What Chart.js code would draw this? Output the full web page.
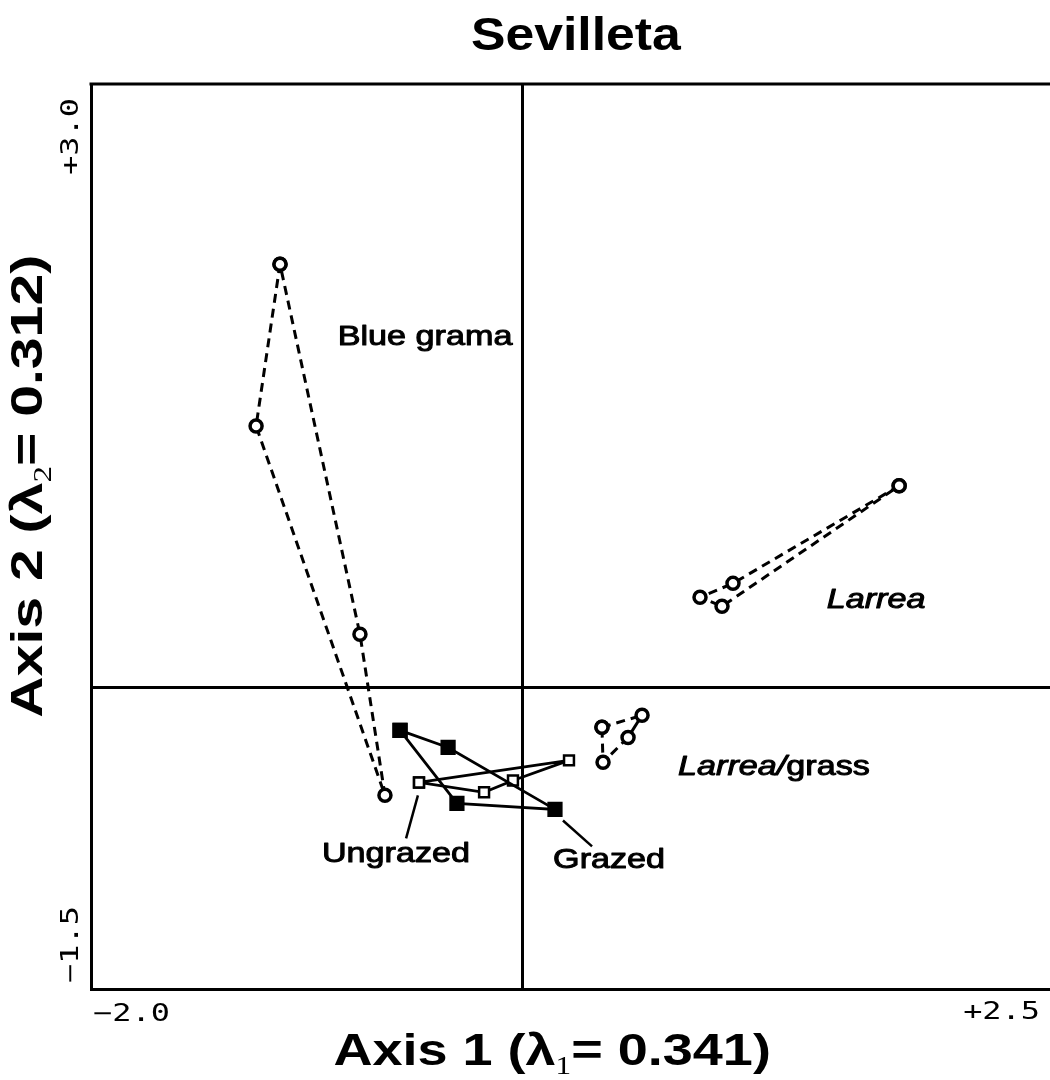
<!DOCTYPE html>
<html>
<head>
<meta charset="utf-8">
<title>Sevilleta</title>
<script src="https://cdn.jsdelivr.net/npm/chart.js@4.4.1/dist/chart.umd.min.js"></script>
<style>
  html, body { margin: 0; padding: 0; background: #fff; overflow: hidden; }
  #wrap { width: 1050px; height: 1080px; }
</style>
</head>
<body>
<div id="wrap"><canvas id="chart" width="1050" height="1080"></canvas></div>
<script>
// ── AXES ────────────────────────────────────────────────────────────
// printed range is -2.0 .. +2.5, but the right edge of the figure is
// cropped at about +2.45
var X_MIN = -2.0, X_MAX = 2.45;
var Y_MIN = -1.5, Y_MAX = 3.0;
var xTickLabels = ["\u22122.0", "+2.5"];
var yTickLabels = ["\u22121.5", "+3.0"];

// ── ORDINATION SCORES (polygons, first point repeated to close) ─────
var blueGramaX   = [-1.123, -1.234, -0.636, -0.752, -1.123];
var blueGramaY   = [ 2.104,  1.299, -0.537,  0.264,  2.104];
var larreaX      = [ 1.750,  0.979,  0.826,  0.928,  1.750];
var larreaY      = [ 1.002,  0.517,  0.448,  0.403,  1.002];
var larreaGrassX = [ 0.371,  0.557,  0.492,  0.376,  0.371];
var larreaGrassY = [-0.199, -0.139, -0.249, -0.373, -0.199];
var grazedX      = [-0.566, -0.343,  0.153, -0.302, -0.566];
var grazedY      = [-0.214, -0.299, -0.607, -0.577, -0.214];
var ungrazedX    = [-0.478, -0.176, -0.042,  0.218, -0.478];
var ungrazedY    = [-0.473, -0.522, -0.463, -0.363, -0.473];

// leader lines from the labels to the square groups
var ungrazedLeaderX = [-0.483, -0.538];
var ungrazedLeaderY = [-0.537, -0.751];
var grazedLeaderX   = [ 0.190,  0.325];
var grazedLeaderY   = [-0.662, -0.791];

// ── GROUP LABELS ────────────────────────────────────────────────────
var labelText   = ["Blue grama", "Larrea", "Larrea/grass", "Ungrazed", "Grazed"];
var labelItalic = ["", "Larrea", "Larrea/", "", ""];   // italic prefix
var labelX      = [-0.450, 1.643, 1.169, -0.585, 0.404];
var labelY      = [ 1.741, 0.433, -0.398, -0.831, -0.861];

// ── HELPERS ─────────────────────────────────────────────────────────
var SANS = "'Liberation Sans', Arial, sans-serif";
var MONO = "'DejaVu Sans Mono', monospace";

function pts(xs, ys) {
    var out = [];
    for (var i = 0; i < xs.length; i++) out.push({ x: xs[i], y: ys[i] });
    return out;
}

function circles(name, xs, ys) {
    return {
        label: name,
        data: pts(xs, ys),
        showLine: true,
        borderColor: "#000",
        borderWidth: 3,
        borderDash: [9, 6],
        pointStyle: "circle",
        pointRadius: 6,
        pointBorderWidth: 3.5,
        pointBackgroundColor: "#fff",
        pointBorderColor: "#000"
    };
}

function squares(name, xs, ys, filled, r) {
    return {
        label: name,
        data: pts(xs, ys),
        showLine: true,
        borderColor: "#000",
        borderWidth: 2.8,
        pointStyle: "rect",
        pointRadius: r,
        pointBorderWidth: 2.5,
        pointBackgroundColor: filled ? "#000" : "#fff",
        pointBorderColor: "#000"
    };
}

function leader(name, xs, ys) {
    return {
        label: name,
        data: pts(xs, ys),
        showLine: true,
        borderColor: "#000",
        borderWidth: 2.5,
        pointRadius: 0
    };
}

// draws a run of text pieces (each with its own font) as one string
function drawParts(ctx, parts, x, y, align, rot, sx, stroke) {
    ctx.save();
    ctx.translate(x, y);
    if (rot) ctx.rotate(rot);
    ctx.scale(sx, 1);
    var w = 0, i;
    for (i = 0; i < parts.length; i++) {
        ctx.font = parts[i].font;
        parts[i].w = ctx.measureText(parts[i].text).width;
        w += parts[i].w;
    }
    var cur = align === "center" ? -w / 2 : (align === "right" ? -w : 0);
    ctx.textAlign = "left";
    ctx.textBaseline = "middle";
    ctx.fillStyle = "#000";
    ctx.strokeStyle = "#000";
    ctx.lineJoin = "round";
    for (i = 0; i < parts.length; i++) {
        ctx.font = parts[i].font;
        ctx.fillText(parts[i].text, cur, parts[i].dy || 0);
        if (stroke) {
            ctx.lineWidth = stroke;
            ctx.strokeText(parts[i].text, cur, parts[i].dy || 0);
        }
        cur += parts[i].w;
    }
    ctx.restore();
}

// ── TEXT + FRAME PLUGIN ─────────────────────────────────────────────
var textPlugin = {
    id: "figureText",
    afterDraw: function (chart) {
        var ctx = chart.ctx, a = chart.chartArea;
        var xs = chart.scales.x, ys = chart.scales.y;

        // top edge of the frame
        ctx.save();
        ctx.strokeStyle = "#000";
        ctx.lineWidth = 3;
        ctx.beginPath();
        ctx.moveTo(a.left - 1.5, a.top);
        ctx.lineTo(a.right, a.top);
        ctx.stroke();
        ctx.restore();

        // title, centred on the full (uncropped) -2.0 .. +2.5 axis
        drawParts(ctx, [{ text: "Sevilleta", font: "bold 47px " + SANS }],
            xs.getPixelForValue(0.25), a.top - 47, "center", 0, 1.1, 0);

        // axis titles
        var big = "bold 45px " + SANS, sub = "26px 'Liberation Serif', serif";
        drawParts(ctx, [
            { text: "Axis 1 (\u03bb", font: big },
            { text: "1", font: sub, dy: 14 },
            { text: "= 0.341)", font: big }
        ], xs.getPixelForValue(0.14), a.bottom + 64, "center", 0, 1.2, 0);
        drawParts(ctx, [
            { text: "Axis 2 (\u03bb", font: big },
            { text: "2", font: sub, dy: 14 },
            { text: "= 0.312)", font: big }
        ], a.left - 61, ys.getPixelForValue(1.0), "center", -Math.PI / 2, 1.27, 0);

        // corner tick labels
        var tf = "24px " + MONO, ts = 1.33;
        drawParts(ctx, [{ text: xTickLabels[0], font: tf }],
            xs.getPixelForValue(X_MIN) + 2, a.bottom + 26, "left", 0, ts, 0);
        drawParts(ctx, [{ text: xTickLabels[1], font: tf }],
            a.right - 10, a.bottom + 24, "right", 0, ts, 0);
        drawParts(ctx, [{ text: yTickLabels[1], font: tf }],
            a.left - 19, ys.getPixelForValue(Y_MAX) + 14, "right", -Math.PI / 2, ts, 0);
        drawParts(ctx, [{ text: yTickLabels[0], font: tf }],
            a.left - 19, ys.getPixelForValue(Y_MIN) - 6, "left", -Math.PI / 2, ts, 0);

        // group labels
        for (var i = 0; i < labelText.length; i++) {
            var parts = [];
            var it = labelItalic[i];
            if (it) parts.push({ text: it, font: "italic 28px " + SANS });
            var rest = labelText[i].slice(it.length);
            if (rest) parts.push({ text: rest, font: "28px " + SANS });
            drawParts(ctx, parts, xs.getPixelForValue(labelX[i]), ys.getPixelForValue(labelY[i]),
                "center", 0, 1.22, 1.0);
        }
    }
};

function zeroLine(c) {
    return c.tick && c.tick.value === 0 ? "#000" : "rgba(0,0,0,0)";
}

// ── CHART ───────────────────────────────────────────────────────────
var larreaGrassSet = circles("Larrea/grass", larreaGrassX, larreaGrassY);
larreaGrassSet.segment = {
    borderDash: function (s) { return s.p0DataIndex === 1 ? [] : [9, 6]; }
};

new Chart(document.getElementById("chart"), {
    type: "scatter",
    data: {
        datasets: [
            circles("Blue grama", blueGramaX, blueGramaY),
            circles("Larrea", larreaX, larreaY),
            larreaGrassSet,
            squares("Grazed", grazedX, grazedY, true, 9),
            squares("Ungrazed", ungrazedX, ungrazedY, false, 7),
            leader("Ungrazed leader", ungrazedLeaderX, ungrazedLeaderY),
            leader("Grazed leader", grazedLeaderX, grazedLeaderY)
        ]
    },
    options: {
        responsive: false,
        animation: false,
        events: [],
        layout: { autoPadding: false, padding: { top: 84, right: 0, left: 0, bottom: 0 } },
        plugins: { legend: { display: false }, tooltip: { enabled: false } },
        scales: {
            x: {
                type: "linear", min: X_MIN, max: X_MAX,
                ticks: { display: false, stepSize: 0.5 },
                grid: { drawTicks: false, color: zeroLine, lineWidth: 3 },
                border: { display: true, color: "#000", width: 3 },
                afterFit: function (s) { s.height = 91; }
            },
            y: {
                type: "linear", min: Y_MIN, max: Y_MAX,
                ticks: { display: false, stepSize: 0.5 },
                grid: { drawTicks: false, color: zeroLine, lineWidth: 3 },
                border: { display: true, color: "#000", width: 3 },
                afterFit: function (s) { s.width = 91; }
            }
        }
    },
    plugins: [textPlugin]
});
</script>
</body>
</html>
